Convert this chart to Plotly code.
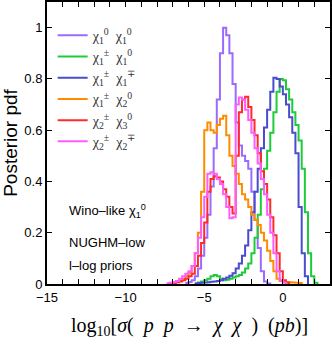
import numpy as np
import plotly.graph_objects as go

# histogram bins: width 0.2 in log10(sigma/pb); each series gives the left edge of its first bin
BIN_WIDTH = 0.2

labels = [
    "χ<sub>1</sub><sup>0</sup>  χ<sub>1</sub><sup>0</sup>",
    "χ<sub>1</sub><sup>±</sup>  χ<sub>1</sub><sup>0</sup>",
    "χ<sub>1</sub><sup>±</sup>  χ<sub>1</sub><sup>∓</sup>",
    "χ<sub>1</sub><sup>±</sup>  χ<sub>2</sub><sup>0</sup>",
    "χ<sub>2</sub><sup>±</sup>  χ<sub>3</sub><sup>0</sup>",
    "χ<sub>2</sub><sup>±</sup>  χ<sub>2</sub><sup>∓</sup>",
]
colors = ["#9B6BFF", "#1ECB3A", "#4B4BD0", "#FF8C00", "#FF2A2A", "#FF5CFF"]

n1n1_start = -6.2
n1n1 = [0.004, 0.008, 0.015, 0.03, 0.06, 0.11, 0.18, 0.27, 0.38, 0.53, 0.72, 0.90,
        1.0, 0.97, 0.90, 0.78, 0.63, 0.54, 0.50, 0.48, 0.45, 0.36, 0.25, 0.14, 0.05,
        0.01, 0.002]

c1n1_start = -5.6
c1n1 = [0.003, 0.006, 0.01, 0.015, 0.02, 0.03, 0.035, 0.03, 0.02, 0.015, 0.017, 0.02,
        0.025, 0.03, 0.035, 0.045, 0.06, 0.08, 0.12, 0.18, 0.27, 0.37, 0.45, 0.52,
        0.59, 0.67, 0.75, 0.80, 0.795, 0.76, 0.72, 0.67, 0.62, 0.56, 0.45, 0.28, 0.12,
        0.03, 0.005]

c1c1_start = -5.6
c1c1 = [0.002, 0.004, 0.005, 0.006, 0.007, 0.009, 0.01, 0.012, 0.015, 0.02, 0.025,
        0.032, 0.042, 0.06, 0.08, 0.11, 0.15, 0.21, 0.28, 0.36, 0.45, 0.53, 0.61, 0.68,
        0.75, 0.805, 0.80, 0.77, 0.74, 0.70, 0.65, 0.59, 0.51, 0.30, 0.12, 0.03]

c1n2_start = -7.2
c1n2 = [0.003, 0.006, 0.009, 0.012, 0.02, 0.03, 0.045, 0.07, 0.12, 0.2, 0.36, 0.6,
        0.63, 0.6, 0.59, 0.62, 0.645, 0.656, 0.58, 0.5, 0.46, 0.43, 0.39, 0.35, 0.33,
        0.3, 0.27, 0.25, 0.23, 0.2, 0.17, 0.13, 0.09, 0.05, 0.02, 0.012, 0.01, 0.008,
        0.007, 0.006, 0.005, 0.004]

c2n3_start = -7.2
c2n3 = [0.002, 0.004, 0.007, 0.01, 0.015, 0.02, 0.03, 0.04, 0.07, 0.11, 0.16, 0.24,
        0.36, 0.41, 0.42, 0.415, 0.40, 0.37, 0.34, 0.30, 0.275, 0.5, 0.67, 0.72, 0.73,
        0.69, 0.64, 0.58, 0.51, 0.44, 0.39, 0.33, 0.26, 0.19, 0.12, 0.05, 0.015, 0.005]

c2c2_start = -7.4
c2c2 = [0.003, 0.005, 0.008, 0.012, 0.02, 0.03, 0.04, 0.05, 0.07, 0.12, 0.18, 0.26,
        0.34, 0.43, 0.436, 0.43, 0.41, 0.39, 0.35, 0.30, 0.256, 0.26, 0.70, 0.727, 0.72,
        0.68, 0.64, 0.59, 0.53, 0.47, 0.41, 0.35, 0.27, 0.20, 0.12, 0.05, 0.015, 0.005]

series = [
    (n1n1_start, n1n1),
    (c1n1_start, c1n1),
    (c1c1_start, c1c1),
    (c1n2_start, c1n2),
    (c2n3_start, c2n3),
    (c2c2_start, c2c2),
]

x_tick_vals = [-15, -10, -5, 0]
y_tick_vals = [0, 0.2, 0.4, 0.6, 0.8, 1.0]

SANS = "Liberation Sans, Arial, sans-serif"
SERIF = "Liberation Serif, Times New Roman, serif"

fig = go.Figure()

for (start, vals), name, col in zip(series, labels, colors):
    edges = start + BIN_WIDTH * np.arange(len(vals) + 1)
    fig.add_trace(go.Scatter(
        x=edges,
        y=list(vals) + [0],
        mode="lines",
        line=dict(color=col, width=2, shape="hv"),
        name=name,
    ))

axis_common = dict(
    showline=True,
    linecolor="black",
    linewidth=2,
    mirror="ticks",
    ticks="inside",
    tickcolor="black",
    tickwidth=1,
    ticklen=5,
    showgrid=False,
    zeroline=False,
    automargin=False,
    tickfont=dict(family=SANS, size=13, color="black"),
)

fig.update_xaxes(
    range=[-15, 3],
    tickvals=x_tick_vals,
    minor=dict(dtick=1, tick0=0, ticks="inside", ticklen=5, tickcolor="black", tickwidth=1),
    **axis_common,
)
fig.update_yaxes(
    range=[0, 1.1],
    tickvals=y_tick_vals,
    title=dict(text="Posterior pdf", font=dict(family=SANS, size=19, color="black"), standoff=8),
    **axis_common,
)

# x-axis label (LaTeX-like)
fig.add_annotation(
    xref="paper", yref="paper", x=0.505, y=-0.152,
    xanchor="center", yanchor="middle", showarrow=False,
    text=("log<sub>10</sub>[<i>σ</i>(&nbsp;&nbsp;<i>p</i>&nbsp;&nbsp;<i>p</i>&nbsp;&nbsp;→&nbsp;&nbsp;"
          "<i>χ</i>&nbsp;&nbsp;<i>χ</i>&nbsp;&nbsp;)&nbsp;&nbsp;(<i>pb</i>)]"),
    font=dict(family=SERIF, size=20, color="black"),
)

notes = ["Wino–like χ<sub>1</sub><sup>0</sup>", "NUGHM–low", "l–log priors"]
note_y = [0.285, 0.16, 0.071]
for txt, yy in zip(notes, note_y):
    fig.add_annotation(
        x=-13.7, y=yy, xanchor="left", yanchor="middle", showarrow=False,
        text=txt, font=dict(family=SANS, size=13, color="black"),
    )

fig.update_layout(
    width=332,
    height=347,
    margin=dict(l=47, r=2, t=2, b=63),
    plot_bgcolor="white",
    paper_bgcolor="white",
    showlegend=True,
    legend=dict(
        x=0.02, y=0.937, xanchor="left", yanchor="top",
        bgcolor="rgba(0,0,0,0)", borderwidth=0,
        font=dict(family=SERIF, size=14, color="#333"),
        itemwidth=30, tracegroupgap=0,
    ),
)

# drop the default page margin so the figure sits at the window's top-left corner
fig.write_html("out.html", config={"displayModeBar": False},
               post_script="document.body.style.margin = '0';")
